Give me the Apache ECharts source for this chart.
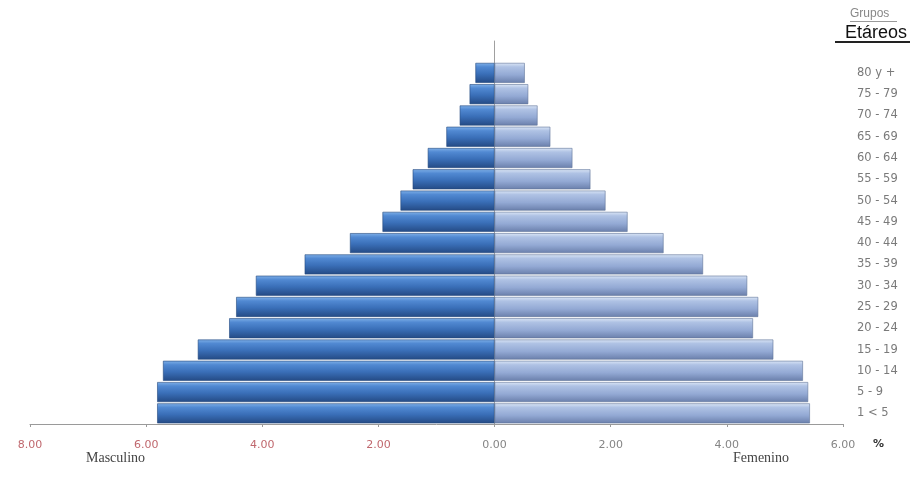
<!DOCTYPE html>
<html>
<head>
<meta charset="utf-8">
<script src="https://cdn.jsdelivr.net/npm/echarts@6/dist/echarts.min.js"></script>
<style>html,body{margin:0;padding:0;background:#fff}#c{width:913px;height:498px}</style>
</head>
<body>
<div id="c"></div>
<script>
// Age groups, bottom to top (last entry is an empty slot above the top bar)
var categories = ['1 < 5','5 - 9','10 - 14','15 - 19','20 - 24','25 - 29','30 - 34','35 - 39','40 - 44','45 - 49','50 - 54','55 - 59','60 - 64','65 - 69','70 - 74','75 - 79','80 y +',''];
// Percentages, same order
var masculino = [5.81,5.81,5.71,5.11,4.57,4.45,4.11,3.27,2.49,1.93,1.62,1.41,1.15,0.83,0.60,0.43,0.33];
var femenino  = [5.43,5.40,5.31,4.80,4.45,4.54,4.35,3.59,2.91,2.29,1.91,1.65,1.34,0.96,0.74,0.58,0.52];
var xTicks = {min:-8, max:6, interval:2};

var chart = echarts.init(document.getElementById('c'), null, {renderer:'canvas'});
var maleGrad = new echarts.graphic.LinearGradient(0,0,0,1,[
  {offset:0,color:'#7fb0e8'},{offset:0.2,color:'#5189d2'},{offset:0.55,color:'#3a6fb8'},{offset:1,color:'#244a84'}]);
var femGrad = new echarts.graphic.LinearGradient(0,0,0,1,[
  {offset:0,color:'#dbe6f6'},{offset:0.2,color:'#afc2e4'},{offset:0.6,color:'#93a9d4'},{offset:1,color:'#6a7fab'}]);

chart.setOption({
  animation:false,
  grid:{left:30,right:70,top:41,bottom:74},
  xAxis:{
    type:'value', min:xTicks.min, max:xTicks.max, interval:xTicks.interval,
    splitLine:{show:false},
    axisLine:{show:true,lineStyle:{color:'#9a9a9a',width:1}},
    axisTick:{show:true,length:3,lineStyle:{color:'#9a9a9a'}},
    axisLabel:{
      margin:16, fontFamily:'DejaVu Sans', fontSize:11,
      formatter:function(v){var s=Math.abs(v).toFixed(2);return v<0?'{n|'+s+'}':'{p|'+s+'}';},
      rich:{n:{color:'#c0686e',fontFamily:'DejaVu Sans',fontSize:11},p:{color:'#858585',fontFamily:'DejaVu Sans',fontSize:11}}
    }
  },
  yAxis:[{
    type:'category', data:categories, position:'left',
    axisLine:{show:true,onZero:true,lineStyle:{color:'#a0a0a0',width:1}},
    axisTick:{show:false}, axisLabel:{show:false}, splitLine:{show:false}
  },{
    type:'category', data:categories, position:'right',
    axisLine:{show:false}, axisTick:{show:false}, splitLine:{show:false},
    axisLabel:{margin:14,align:'left',color:'#7a7a7a',fontFamily:'DejaVu Sans',fontSize:11.5}
  }],
  series:[{
    name:'Masculino', type:'bar', yAxisIndex:0, stack:'p', barCategoryGap:'6%',
    data:masculino.map(function(v){return -v;}),
    itemStyle:{color:maleGrad,borderColor:'#24487e',borderWidth:0.6}
  },{
    name:'Femenino', type:'bar', yAxisIndex:0, stack:'p', barCategoryGap:'6%',
    data:femenino,
    itemStyle:{color:femGrad,borderColor:'#5f7399',borderWidth:0.6}
  }],
  graphic:[
    {type:'text',left:850,top:8,style:{text:'Grupos',fill:'#888',font:'12px "Liberation Sans"'}},
    {type:'line',shape:{x1:850,y1:21.5,x2:897,y2:21.5},style:{stroke:'#999',lineWidth:1}},
    {type:'text',left:845,top:24,style:{text:'Etáreos',fill:'#111',font:'18px "Liberation Sans"'}},
    {type:'line',shape:{x1:835,y1:42,x2:910,y2:42},style:{stroke:'#222',lineWidth:2}},
    {type:'text',left:873,top:439,style:{text:'%',fill:'#333',font:'bold 11px "DejaVu Sans"'}},
    {type:'text',left:86,top:451,style:{text:'Masculino',fill:'#444',font:'14px "Liberation Serif"'}},
    {type:'text',left:733,top:451,style:{text:'Femenino',fill:'#444',font:'14px "Liberation Serif"'}}
  ]
});
</script>
</body>
</html>
